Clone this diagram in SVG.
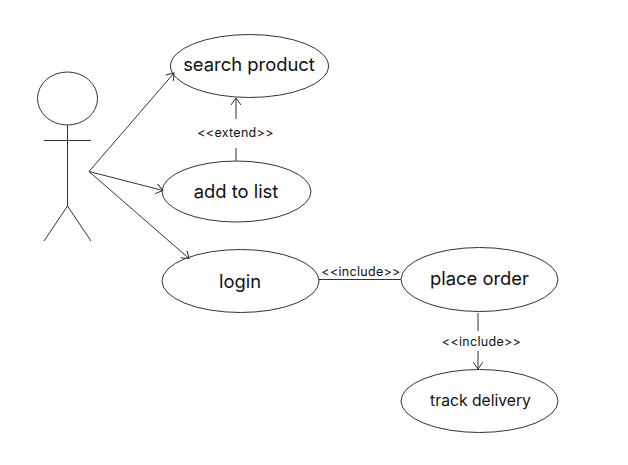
<svg xmlns="http://www.w3.org/2000/svg" width="628" height="465" viewBox="0 0 628 465">
<style>
.s{fill:none;stroke:#333;stroke-width:1}
.g{fill:none;stroke:#333;stroke-width:1}
text{font-family:Inter,"Liberation Sans",sans-serif;fill:#111;text-anchor:middle}
.n{font-size:18.400px}
.t{font-size:15.700px}
.l{font-size:12.500px;letter-spacing:.3px}
</style>
<defs>
<marker id="a" viewBox="-10 -5 11 10" refX="0" refY="0" markerWidth="11" markerHeight="10" markerUnits="userSpaceOnUse" orient="auto"><path d="M-7-5L0 0L-7 5" fill="none" stroke="#333" stroke-width="1"/></marker>
</defs>
<rect width="628" height="465" fill="#fff"/>
<g id="actor" class="s">
<ellipse cx="67.500" cy="98.500" rx="30" ry="26.500"/>
<path d="M67.500 125V206M44 140.500H91M67.500 206L44 241M67.500 206L91 241"/>
</g>
<g id="connectors" class="g">
<path d="M89 171.500L174 73" marker-end="url(#a)"/>
<path d="M89 171.500L163 190.500" marker-end="url(#a)"/>
<path d="M89 171.500L189 258.500" marker-end="url(#a)"/>
<path d="M236 161V148"/>
<path d="M236 119V98" marker-end="url(#a)"/>
<path d="M319 279.500H401"/>
<path d="M478 313V331"/>
<path d="M478 351V369" marker-end="url(#a)"/>
</g>
<g id="search-product"><ellipse class="s" cx="249.500" cy="66" rx="79" ry="31.500"/><text class="n" x="249" y="71">search product</text></g>
<g id="add-to-list"><ellipse class="s" cx="236.500" cy="191.500" rx="74.500" ry="30.500"/><text class="n" x="236" y="198">add to list</text></g>
<g id="login"><ellipse class="s" cx="240.500" cy="281" rx="78.500" ry="31.500"/><text class="n" x="240" y="288">login</text></g>
<g id="place-order"><ellipse class="s" cx="479.500" cy="279.500" rx="78.500" ry="32"/><text class="n" x="479.500" y="285">place order</text></g>
<g id="track-delivery"><ellipse class="s" cx="479.500" cy="401" rx="78.500" ry="31.500"/><text class="t" x="480.500" y="406">track delivery</text></g>
<text class="l" x="235.500" y="137">&lt;&lt;extend&gt;&gt;</text>
<text class="l" x="361" y="276">&lt;&lt;include&gt;&gt;</text>
<text class="l" x="481.500" y="345.500">&lt;&lt;include&gt;&gt;</text>
</svg>
